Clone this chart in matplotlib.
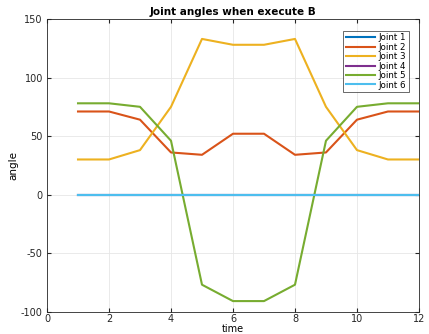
import numpy as np
import matplotlib
matplotlib.use("Agg")
import matplotlib.pyplot as plt

plt.rcParams["axes.unicode_minus"] = False

t = np.arange(1, 13)
joint1 = [0, 0, 0, 0, 0, 0, 0, 0, 0, 0, 0, 0]
joint2 = [71, 71, 64, 36, 34, 52, 52, 34, 36, 64, 71, 71]
joint3 = [30, 30, 38, 75, 133, 128, 128, 133, 75, 38, 30, 30]
joint4 = [0, 0, 0, 0, 0, 0, 0, 0, 0, 0, 0, 0]
joint5 = [78, 78, 75, 46, -77, -91, -91, -77, 46, 75, 78, 78]
joint6 = [0, 0, 0, 0, 0, 0, 0, 0, 0, 0, 0, 0]
series = [joint1, joint2, joint3, joint4, joint5, joint6]
labels = ["Joint 1", "Joint 2", "Joint 3", "Joint 4", "Joint 5", "Joint 6"]
colors = ["#0072BD", "#D95319", "#EDB120", "#7E2F8E", "#77AC30", "#4DBEEE"]

fig = plt.figure(figsize=(4.29, 3.34), dpi=100)
ax = fig.add_axes([0.1096, 0.067, 0.867, 0.876])

for y, lab, c in zip(series, labels, colors):
    ax.plot(t, y, color=c, lw=1.5, label=lab)

ax.set_xlim(0, 12)
ax.set_ylim(-100, 150)
ax.set_xticks(range(0, 13, 2))
ax.set_yticks(range(-100, 151, 50))
ax.grid(True, color="#e6e6e6", lw=0.6)
ax.set_axisbelow(True)
ax.tick_params(direction="in", length=3, labelsize=7, colors="#262626", top=True, right=True,
               labeltop=False, labelright=False, pad=3)
ax.tick_params(axis="x", pad=2)
for s in ax.spines.values():
    s.set_color("#262626")
    s.set_linewidth(0.6)

ax.set_title("Joint angles when execute B", fontsize=7.5, fontweight="bold", pad=3)
ax.set_xlabel("time", fontsize=7, labelpad=0)
ax.set_ylabel("angle", fontsize=7.5, labelpad=2)

leg = ax.legend(loc="upper right", fontsize=6.3, frameon=True, fancybox=False,
                handlelength=3.4, handletextpad=0.4, labelspacing=0.05,
                borderpad=0.3, bbox_to_anchor=(0.985, 0.975))
leg.get_frame().set_edgecolor("#262626")
leg.get_frame().set_linewidth(0.6)

plt.savefig("out.png", dpi=100, facecolor="white")
plt.close()
